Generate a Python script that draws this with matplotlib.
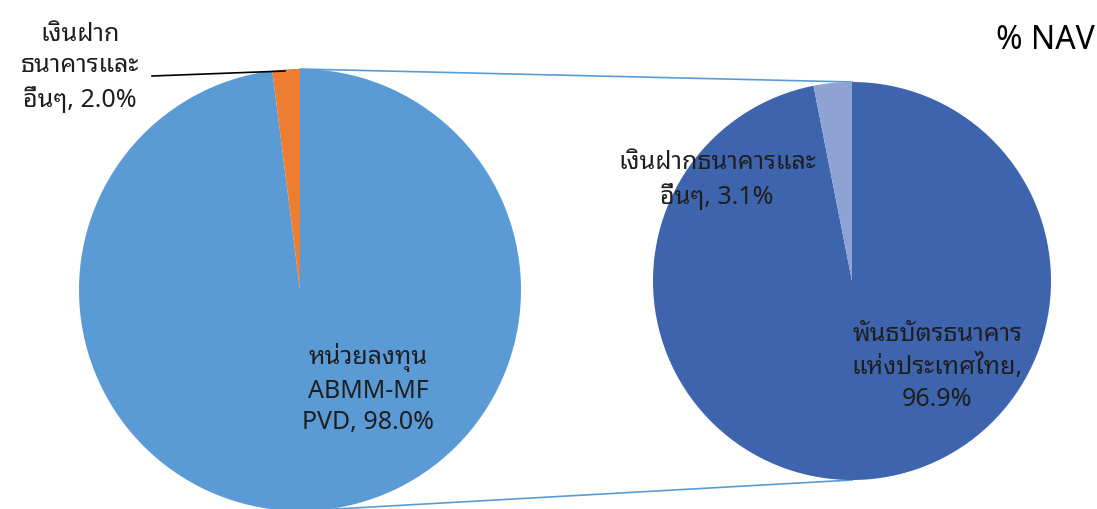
import matplotlib
matplotlib.use('Agg')
import matplotlib.pyplot as plt
from matplotlib import font_manager
from fontTools.ttLib import TTFont

# find fonts that can draw Thai
thai_fonts = []
for path in font_manager.findSystemFonts():
    try:
        f = TTFont(path, fontNumber=0, lazy=True)
        cmap = f.getBestCmap()
        if cmap and 0x0E01 in cmap and 0x0E19 in cmap:
            name = font_manager.FontProperties(fname=path).get_name()
            if name not in thai_fonts:
                thai_fonts.append(name)
    except Exception:
        pass

preferred = ['Noto Sans Thai Looped', 'Tahoma', 'Leelawadee UI', 'IBM Plex Sans Thai Looped',
             'Sarabun', 'Noto Sans Thai', 'IBM Plex Sans Thai', 'Loma', 'Garuda']
thai = [f for f in preferred if f in thai_fonts] or thai_fonts[:1]
plt.rcParams['font.family'] = thai[:1] + ['DejaVu Sans']

# Data
main_labels = ['หน่วยลงทุน\nABMM-MF\nPVD, 98.0%', 'เงินฝาก\nธนาคารและ\nอื่นๆ, 2.0%']
main_values = [98.0, 2.0]
main_colors = ['#5B9BD5', '#ED7D31']

sub_labels = ['พันธบัตรธนาคาร\nแห่งประเทศไทย,\n96.9%', 'เงินฝากธนาคารและ\nอื่นๆ, 3.1%']
sub_values = [96.9, 3.1]
sub_colors = ['#3D64AD', '#8FA2D4']

W, H = 1097, 509
fig = plt.figure(figsize=(W / 100, H / 100), dpi=100)
ax = fig.add_axes([0, 0, 1, 1])

c1, r1 = (300, H - 290), 221
c2, r2 = (852, H - 281), 199

ax.pie(main_values, colors=main_colors, startangle=90, counterclock=False,
       center=c1, radius=r1, frame=True, wedgeprops=dict(linewidth=0))
ax.pie(sub_values, colors=sub_colors, startangle=90, counterclock=False,
       center=c2, radius=r2, frame=True, wedgeprops=dict(linewidth=0))

# connector lines between the two pies
ax.plot([c1[0], c2[0]], [c1[1] + r1, c2[1] + r2], color='#5B9BD5', lw=1.2, zorder=0)
ax.plot([c1[0], c2[0]], [c1[1] - r1, c2[1] - r2], color='#5B9BD5', lw=1.2, zorder=0)

txt = dict(color='#1e1e1e', fontsize=18, ha='center', va='center', linespacing=1.35)
ax.text(368, H - 389, main_labels[0], **txt)
ax.text(80, H - 67, main_labels[1], **txt)
ax.plot([152, 285], [H - 76, H - 71], color='black', lw=1.2)
ax.text(937, H - 367, sub_labels[0], **txt)
ax.text(717, H - 180, sub_labels[1], **txt)

ax.text(1095, H - 40, '% NAV', fontsize=23, ha='right', va='center', color='black')

ax.set_xlim(0, W)
ax.set_ylim(0, H)
ax.set_aspect('auto')
ax.axis('off')

fig.savefig('out.png', dpi=100)
